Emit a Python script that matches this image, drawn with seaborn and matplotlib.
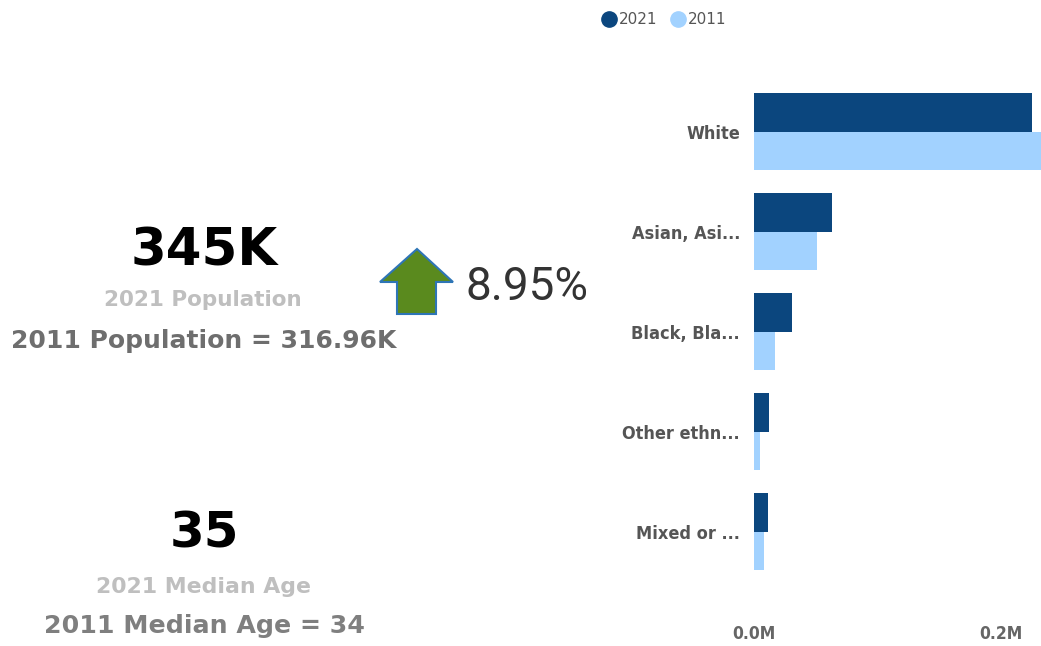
import pandas as pd
import matplotlib
import matplotlib.pyplot as plt
import seaborn as sns
from matplotlib.patches import Polygon
from matplotlib.lines import Line2D

# data
ethnic_groups = ['White', 'Asian, Asi...', 'Black, Bla...', 'Other ethn...', 'Mixed or ...']
pop_2021 = [0.225, 0.063, 0.0305, 0.0124, 0.0116]   # millions
pop_2011 = [0.240, 0.051, 0.0173, 0.0051, 0.0078]
years = ['2021', '2011']
colors = ['#0B467E', '#A2D2FF']

kpi_pop = '345K'
kpi_pop_label = '2021 Population'
kpi_pop_prev = '2011 Population = 316.96K'
kpi_change = '8.95%'
kpi_age = '35'
kpi_age_label = '2021 Median Age'
kpi_age_prev = '2011 Median Age = 34'

df = pd.DataFrame({
    'group': ethnic_groups * 2,
    'pop': pop_2021 + pop_2011,
    'year': [years[0]] * len(ethnic_groups) + [years[1]] * len(ethnic_groups),
})

sns.set_style('white')
matplotlib.rcParams['font.family'] = ['DejaVu Sans']

W, H = 1041, 646
fig = plt.figure(figsize=(W / 100, H / 100), dpi=100)
fig.patch.set_facecolor('white')

def fx(px):
    return px / W

def fy(py):
    return 1 - py / H

ax = fig.add_axes([fx(754), fy(581.7), 1 - fx(754), (581.7 - 81.7) / H])
sns.barplot(data=df, y='group', x='pop', hue='year', hue_order=years,
            palette=colors, orient='h', width=0.77, ax=ax, legend=False,
            saturation=1, linewidth=0)
ax.set_xlim(0, (W - 754) / 1235)
ax.set_ylim(4.5, -0.5)
ax.set_xticks([0, 0.2])
ax.set_xticklabels(['0.0M', '0.2M'])
ax.set_xlabel('')
ax.set_ylabel('')
sns.despine(ax=ax, left=True, bottom=True)
ax.tick_params(axis='x', length=0, pad=31, labelsize=12.5, labelcolor='#666666')
ax.tick_params(axis='y', length=0, pad=10, labelsize=13, labelcolor='#555555')
for lab in ax.get_xticklabels() + ax.get_yticklabels():
    lab.set_fontweight('bold')
    lab.set_fontstretch('condensed')

# legend
handles = [Line2D([], [], marker='o', linestyle='', markersize=11,
                  markerfacecolor=c, markeredgecolor=c) for c in colors]
leg = fig.legend(handles, years, loc='center left',
                 bbox_to_anchor=(fx(601), fy(20)), ncol=2, frameon=False,
                 handletextpad=0.15, columnspacing=0.85, handlelength=1.0,
                 borderaxespad=0, borderpad=0, fontsize=11)
for t in leg.get_texts():
    t.set_color('#555555')

# KPI cards
kw = dict(ha='center', va='baseline', fontweight='bold')
fig.text(fx(204), fy(265), kpi_pop, fontsize=37, color='black', **kw)
fig.text(fx(203), fy(306.5), kpi_pop_label, fontsize=15.5, color='#BFBFBF', **kw)
fig.text(fx(204), fy(348), kpi_pop_prev, fontsize=18, color='#6E6E6E', **kw)
fig.text(fx(204), fy(548), kpi_age, fontsize=36, color='black', **kw)
fig.text(fx(203), fy(593), kpi_age_label, fontsize=15.8, color='#BFBFBF', **kw)
fig.text(fx(204), fy(633), kpi_age_prev, fontsize=18.2, color='#7F7F7F', **kw)

# up arrow
arrow = [(380, 282), (417, 249), (453, 282), (436, 282), (436, 314),
         (397, 314), (397, 282)]
fig.patches.append(Polygon([(fx(x), fy(y)) for x, y in arrow], closed=True,
                           transform=fig.transFigure, facecolor='#5A8A1E',
                           edgecolor='#2E75B6', linewidth=1.5))
fig.text(fx(466), fy(300), kpi_change, ha='left', va='baseline', fontsize=33,
         color='#333333', family='Roboto')

plt.savefig('out.png', dpi=100, facecolor='white')
